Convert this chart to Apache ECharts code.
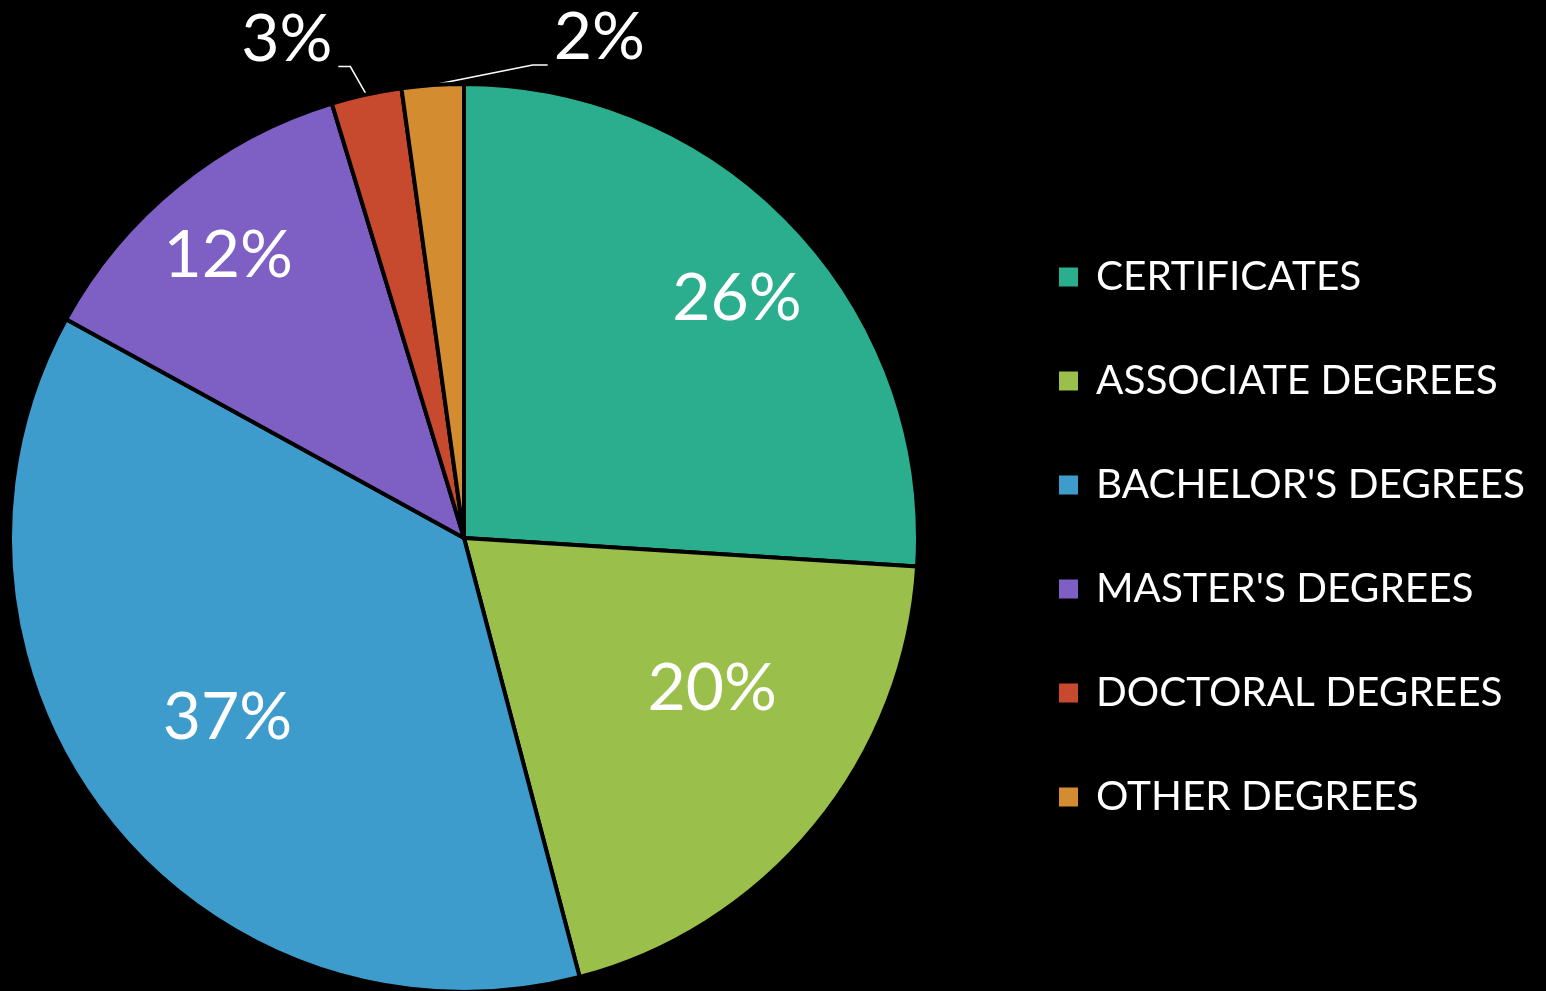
<!DOCTYPE html>
<html>
<head>
<meta charset="utf-8">
<script src="https://cdn.jsdelivr.net/npm/echarts@6/dist/echarts.min.js"></script>
<style>
html, body { margin: 0; padding: 0; background: #000; }
#main { width: 1546px; height: 991px; }
</style>
</head>
<body>
<div id="main"></div>
<script>
var names = ['CERTIFICATES', 'ASSOCIATE DEGREES', "BACHELOR'S DEGREES", "MASTER'S DEGREES", 'DOCTORAL DEGREES', 'OTHER DEGREES'];
var values = [26.0, 19.9, 37.1, 12.3, 2.5, 2.2];
var colors = ['#2bae8e', '#9bbf4b', '#3e9ccd', '#7e60c4', '#c84a2e', '#d48c30'];
// where the inside labels sit: share of radius, and angle (deg, clockwise from 12 o'clock)
var labelRadius = [0.80, 0.64, 0.655, 0.81];
var labelAngle = [48.7, 121.3, 232.7, 320.1];
// leader lines of the two small slices: elbow and end offsets from the slice edge
var leaderOffsets = [
	[[-16, -28], [-28, -28]],
	[[100, -20], [115, -20]]
];

var CX = 464, CY = 538, R = 454;
var font = 'Lato, "Open Sans", sans-serif';

var total = values.reduce(function (a, b) { return a + b; }, 0);
function midAngle(i) {
	var before = 0;
	for (var j = 0; j < i; j++) before += values[j];
	return (before + values[i] / 2) / total * 360;
}
function polar(r, deg) {
	var a = deg * Math.PI / 180;
	return [CX + r * Math.sin(a), CY - r * Math.cos(a)];
}

var chart = echarts.init(document.getElementById('main'));

var data = names.map(function (n, i) {
	var d = { name: n, value: values[i], itemStyle: { color: colors[i] } };
	if (i >= 4) {
		d.label = { position: 'outside' };
	}
	return d;
});

chart.setOption({
	backgroundColor: '#000',
	animation: false,
	legend: {
		orient: 'vertical',
		left: 1057,
		top: 252,
		padding: 0,
		icon: 'rect',
		itemWidth: 21,
		itemHeight: 21,
		itemGap: 54,
		data: names,
		textStyle: {
			color: '#fff',
			fontFamily: font,
			fontSize: 40.5,
			lineHeight: 50,
			padding: [0, 0, 0, 12]
		}
	},
	series: [{
		type: 'pie',
		center: [CX, CY],
		radius: R,
		startAngle: 90,
		clockwise: true,
		avoidLabelOverlap: false,
		itemStyle: { borderColor: '#000', borderWidth: 4 },
		label: {
			position: 'inside',
			color: '#fff',
			fontFamily: font,
			fontSize: 66,
			formatter: function (p) { return Math.round(p.value) + '%'; }
		},
		labelLine: {
			show: true,
			length: 30,
			length2: 14,
			lineStyle: { color: '#fff', width: 1.5 }
		},
		labelLayout: function (p) {
			var i = p.dataIndex;
			if (i < 4) {
				var pt = polar(R * labelRadius[i], labelAngle[i]);
				return { x: pt[0], y: pt[1], align: 'center', verticalAlign: 'middle' };
			}
			var edge = polar(R, midAngle(i));
			var off = leaderOffsets[i - 4];
			var elbow = [edge[0] + off[0][0], edge[1] + off[0][1]];
			var end = [edge[0] + off[1][0], edge[1] + off[1][1]];
			var left = i === 5;
			return {
				x: end[0] + (left ? 6 : -6),
				y: end[1] - 27,
				align: left ? 'left' : 'right',
				verticalAlign: 'middle',
				labelLinePoints: [edge, elbow, end]
			};
		},
		data: data
	}]
});
</script>
</body>
</html>
